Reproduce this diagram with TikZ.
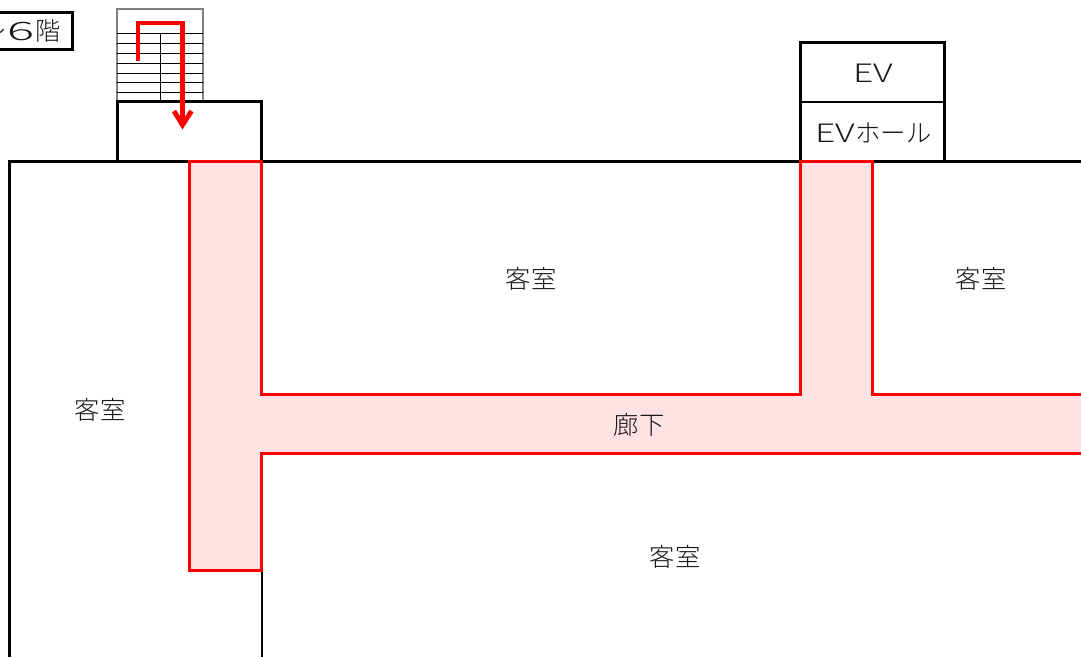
\documentclass[tikz,border=0pt]{standalone}
\usepackage{fontspec}
\setmainfont{Noto Sans CJK JP Light}
\newcommand{\evtext}{\scalebox{1.4}[1]{EV}}
\definecolor{corridor}{RGB}{255,226,228}
\tikzset{
	wall/.style={black,line width=2.25pt},
	thinwall/.style={black,line width=1.5pt},
	route/.style={red,line width=2.25pt},
	stairline/.style={black,line width=0.75pt},
	roomlabel/.style={font=\fontsize{19}{20}\selectfont,text=black!90},
}
\begin{document}
\begin{tikzpicture}[x=0.75pt,y=-0.75pt]
	\useasboundingbox (0,0) rectangle (1081,657);
	\clip (0,0) rectangle (1081,657);
	% stairs
	\draw[gray,line width=0.9pt] (117,9) rectangle (203,101);
	\foreach \y in {33,43,53,63,73,82,92}
		\draw[stairline] (117,\y)--(203,\y);
	\draw[stairline] (160,33)--(160,101);
	% walls
	\draw[wall] (117.5,161)--(117.5,101)--(261.5,101)--(261.5,161);
	\draw[wall] (9.5,657)--(9.5,161)--(1081,161);
	\draw[wall] (800.5,161)--(800.5,40.5);
	\draw[wall] (800.5,42)--(944.5,42)--(944.5,161);
	\draw[thinwall] (800.5,102)--(944.5,102);
	\draw[thinwall] (262,570)--(262,657);
	% corridor
	\draw[route,fill=corridor] (189.5,161)--(261,161)--(261,394)--(800.5,394)--(800.5,161)--(872.5,161)--(872.5,394)--(1090,394)--(1090,453)--(261,453)--(261,570)--(189.5,570)--cycle;
	% route arrow
	\draw[route,line width=3.2pt] (138,61)--(138,23)--(182.5,23)--(182.5,122);
	\draw[route,line width=3.6pt] (174,111)--(182.5,125)--(191.5,111);
	% floor label
	\draw[wall,fill=white] (-20,12.5) rectangle (72.5,49.5);
	\node[roomlabel,anchor=east] (floor) at (66,31) {〜\kern1.5pt\scalebox{2}[1]{6}\kern1pt 階};
	% rooms
	\node[roomlabel] (ev) at (873,73) {\evtext};
	\node[roomlabel] (hall) at (873.5,133) {\evtext ホール};
	\node[roomlabel] (room1) at (531,279) {客室};
	\node[roomlabel] (room2) at (981,279) {客室};
	\node[roomlabel] (room3) at (100,410) {客室};
	\node[roomlabel] (room4) at (675,557) {客室};
	\node[roomlabel] (hallway) at (639,425) {廊下};
\end{tikzpicture}
\end{document}
